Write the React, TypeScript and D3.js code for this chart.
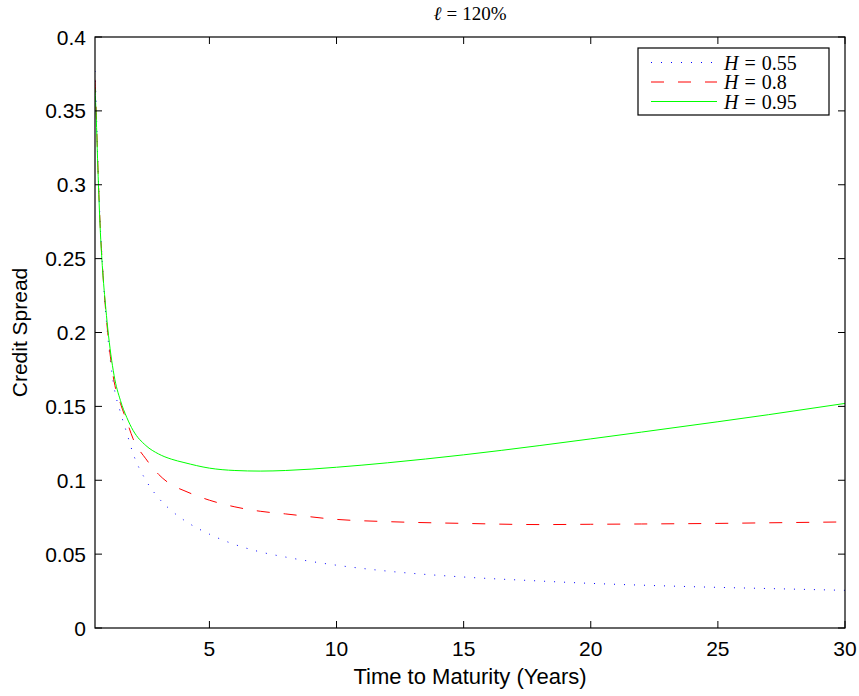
import * as d3 from 'd3'

// time to maturity (years)
const maturities = [0.5, 0.55, 0.6, 0.7, 0.8, 0.9, 1, 1.25, 1.5, 1.75, 2, 2.5, 3, 3.5, 4, 5, 6, 7, 8, 10, 12, 15, 18, 20, 22, 25, 27, 30]

// credit spreads
const spreadH055 = [0.377, 0.352, 0.322, 0.275, 0.244, 0.218, 0.198, 0.163, 0.146, 0.132, 0.118, 0.1, 0.088, 0.0795, 0.073, 0.0635, 0.0565, 0.0515, 0.048, 0.0425, 0.0385, 0.0345, 0.0318, 0.0302, 0.029, 0.0275, 0.0267, 0.0255]
const spreadH08 = [0.371, 0.349, 0.32, 0.274, 0.243, 0.219, 0.2, 0.167, 0.152, 0.14, 0.128, 0.1145, 0.104, 0.097, 0.093, 0.0865, 0.082, 0.079, 0.0772, 0.0735, 0.072, 0.0708, 0.07, 0.0702, 0.0704, 0.0708, 0.0712, 0.0718]
const spreadH095 = [0.365, 0.345, 0.318, 0.272, 0.242, 0.221, 0.203, 0.171, 0.154, 0.1425, 0.1337, 0.1235, 0.1178, 0.1143, 0.112, 0.1082, 0.1066, 0.1062, 0.1066, 0.1088, 0.1118, 0.1172, 0.1235, 0.128, 0.1326, 0.1396, 0.1444, 0.152]

const seriesNames = ['0.55', '0.8', '0.95']
const xTicks = [5, 10, 15, 20, 25, 30]
const yTicks = [0, 0.05, 0.1, 0.15, 0.2, 0.25, 0.3, 0.35, 0.4]

const width = 859
const height = 696
const margin = { top: 37, right: 14, bottom: 68, left: 95 }

export default function App() {
  const x = d3.scaleLinear()
    .domain([0.5, 30])
    .range([margin.left, width - margin.right])
  const y = d3.scaleLinear()
    .domain([0, 0.4])
    .range([height - margin.bottom, margin.top])

  const series = [
    { name: seriesNames[0], values: spreadH055, color: '#0000ff', dash: '1,9' },
    { name: seriesNames[1], values: spreadH08, color: '#ff0000', dash: '13,14' },
    { name: seriesNames[2], values: spreadH095, color: '#00ff00', dash: null },
  ]

  const line = d3.line<number>()
    .x((_, i) => x(maturities[i]))
    .y(d => y(d))
    .curve(d3.curveMonotoneX)

  const x0 = x.range()[0], x1 = x.range()[1]
  const y0 = y.range()[0], y1 = y.range()[1]
  const tickLen = 7
  const font = 'Liberation Sans, Arial, sans-serif'
  const serif = 'Liberation Serif, Times New Roman, serif'

  // legend box
  const lx = 638, ly = 48, lw = 191, lh = 67

  return (
    <svg width={width} height={height} style={{ position: 'absolute', left: 0, top: 0, background: '#fff' }}>
      <rect x={0} y={0} width={width} height={height} fill="#fff" />
      <defs>
        <clipPath id="plot">
          <rect x={x0} y={y1} width={x1 - x0} height={y0 - y1} />
        </clipPath>
      </defs>

      <g clipPath="url(#plot)">
        {series.map(s => (
          <path key={s.name} d={line(s.values) ?? ''} fill="none" stroke={s.color}
            strokeWidth={1} strokeDasharray={s.dash ?? undefined} />
        ))}
      </g>

      {/* box */}
      <rect x={x0} y={y1} width={x1 - x0} height={y0 - y1} fill="none" stroke="#000" strokeWidth={1.2} />

      {/* x ticks */}
      {xTicks.map(t => (
        <g key={'x' + t}>
          <line x1={x(t)} x2={x(t)} y1={y0} y2={y0 - tickLen} stroke="#000" />
          <line x1={x(t)} x2={x(t)} y1={y1} y2={y1 + tickLen} stroke="#000" />
          <text x={x(t)} y={y0 + 28} textAnchor="middle" fontFamily={font} fontSize={21}>{t}</text>
        </g>
      ))}

      {/* y ticks */}
      {yTicks.map(t => (
        <g key={'y' + t}>
          <line x1={x0} x2={x0 + tickLen} y1={y(t)} y2={y(t)} stroke="#000" />
          <line x1={x1} x2={x1 - tickLen} y1={y(t)} y2={y(t)} stroke="#000" />
          <text x={x0 - 9} y={y(t)} dy="0.36em" textAnchor="end" fontFamily={font} fontSize={21}>{String(t)}</text>
        </g>
      ))}

      <text x={(x0 + x1) / 2} y={684} textAnchor="middle" fontFamily={font} fontSize={22}>Time to Maturity (Years)</text>
      <text transform={`translate(27,${(y0 + y1) / 2}) rotate(-90)`} textAnchor="middle" fontFamily={font} fontSize={21}>Credit Spread</text>

      <text x={(x0 + x1) / 2} y={20} textAnchor="middle" fontFamily={serif} fontSize={19}>
        <tspan fontStyle="italic">ℓ</tspan><tspan dx={5}>=</tspan><tspan dx={5}>120%</tspan>
      </text>

      {/* legend */}
      <rect x={lx} y={ly} width={lw} height={lh} fill="#fff" stroke="#000" strokeWidth={1.2} />
      {series.map((s, i) => {
        const cy = ly + 14.5 + i * 19.5
        return (
          <g key={'l' + s.name}>
            <line x1={651} x2={717} y1={cy} y2={cy} stroke={s.color} strokeWidth={1}
              strokeDasharray={s.dash ?? undefined} />
            <text x={724} y={cy} dy="0.35em" fontFamily={serif} fontSize={20}>
              <tspan fontStyle="italic">H</tspan><tspan dx={6}>=</tspan><tspan dx={6}>{s.name}</tspan>
            </text>
          </g>
        )
      })}
    </svg>
  )
}
